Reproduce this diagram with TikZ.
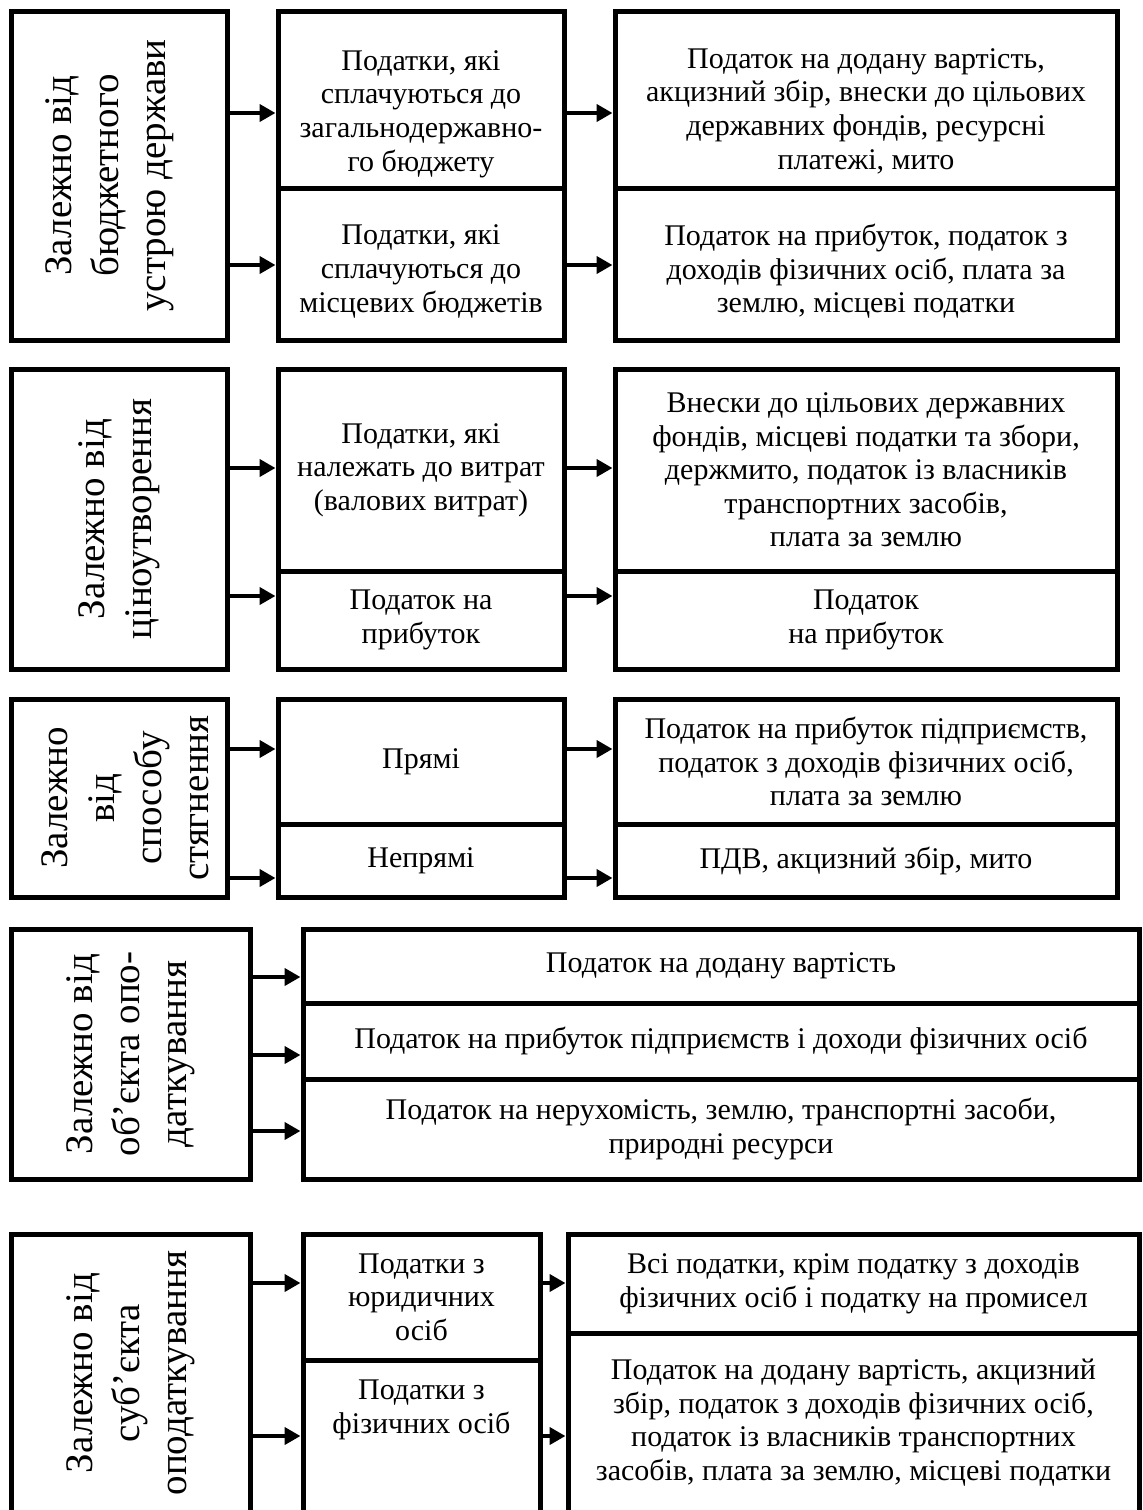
\documentclass[tikz,border=0pt]{standalone}
\usepackage{fontspec}
\setmainfont{Liberation Serif}
\usepackage{graphicx}
\usepackage{tikz}
\usetikzlibrary{arrows.meta}

\newcommand{\vtext}[1]{\rotatebox{90}{\begin{tabular}{@{}c@{}}#1\end{tabular}}}

\tikzset{
    plain/.style={align=center, font=\fontsize{15}{16.8}\selectfont},
    box/.style={plain, draw, line width=2.5pt, inner sep=1pt},
    side/.style={draw, line width=2.5pt, inner sep=0pt, font=\fontsize{19.5}{23.5}\selectfont},
    arr/.style={line width=2pt, -{Triangle[length=8pt, width=8.5pt]}}
}

\begin{document}
\begin{tikzpicture}[x=0.5pt, y=-0.5pt]
    \useasboundingbox (0,0) rectangle (1143,1510);
    \clip (0,0) rectangle (1143,1510);

    \node[side, minimum width=108pt, minimum height=164.5pt] (L1) at (119, 175.5) {\vtext{Залежно від\\бюджетного\\устрою держави}\kern10pt};
    \node[box, minimum width=143pt, minimum height=88.5pt] (M1a) at (421, 99.5) {};
    \node[box, minimum width=143pt, minimum height=76pt] (M1b) at (421, 264) {};
    \node[box, minimum width=251pt, minimum height=88.5pt] (R1a) at (866, 99.5) {};
    \node[box, minimum width=251pt, minimum height=76pt] (R1b) at (866, 264) {};
    \node[plain] (T1a) at (421, 114) {Податки, які\\сплачуються до\\загальнодержавно-\\го бюджету};
    \node[plain] (T1b) at (421, 271.5) {Податки, які\\сплачуються до\\місцевих бюджетів};
    \node[plain] (U1a) at (866, 111) {Податок на додану вартість,\\акцизний збір, внески до цільових\\державних фондів, ресурсні\\платежі, мито};
    \node[plain] (U1b) at (866, 271.5) {Податок на прибуток, податок з\\доходів фізичних осіб, плата за\\землю, місцеві податки};

    \draw[arr] (L1.east |- 0,113) -- (M1a.west |- 0,113);
    \draw[arr] (L1.east |- 0,265) -- (M1b.west |- 0,265);
    \draw[arr] (M1a.east |- 0,113) -- (R1a.west |- 0,113);
    \draw[arr] (M1b.east |- 0,265) -- (R1b.west |- 0,265);

    \node[side, minimum width=108pt, minimum height=150pt] (L2) at (119, 519) {\vtext{Залежно від\\ціноутворення}};
    \node[box, minimum width=143pt, minimum height=101pt] (M2a) at (421, 470) {Податки, які\\належать до витрат\\(валових витрат)};
    \node[box, minimum width=143pt, minimum height=49pt] (M2b) at (421, 620) {Податок на\\прибуток};
    \node[box, minimum width=251pt, minimum height=101pt] (R2a) at (866, 470) {Внески до цільових державних\\фондів, місцеві податки та збори,\\держмито, податок із власників\\транспортних засобів,\\плата за землю};
    \node[box, minimum width=251pt, minimum height=49pt] (R2b) at (866, 620) {Податок\\на прибуток};

    \draw[arr] (L2.east |- 0,468) -- (M2a.west |- 0,468);
    \draw[arr] (L2.east |- 0,596) -- (M2b.west |- 0,596);
    \draw[arr] (M2a.east |- 0,468) -- (R2a.west |- 0,468);
    \draw[arr] (M2b.east |- 0,596) -- (R2b.west |- 0,596);

    \node[side, minimum width=108pt, minimum height=99pt] (L3) at (119, 798) {\kern10pt\vtext{Залежно\\від\\способу\\стягнення}};
    \node[box, minimum width=143pt, minimum height=62.5pt] (M3a) at (421, 761.5) {Прямі};
    \node[box, minimum width=143pt, minimum height=36.5pt] (M3b) at (421, 860.5) {Непрямі};
    \node[box, minimum width=251pt, minimum height=62.5pt] (R3a) at (866, 761.5) {Податок на прибуток підприємств,\\податок з доходів фізичних осіб,\\плата за землю};
    \node[box, minimum width=251pt, minimum height=36.5pt] (R3b) at (866, 860.5) {ПДВ, акцизний збір, мито};

    \draw[arr] (L3.east |- 0,749) -- (M3a.west |- 0,749);
    \draw[arr] (L3.east |- 0,878) -- (M3b.west |- 0,878);
    \draw[arr] (M3a.east |- 0,749) -- (R3a.west |- 0,749);
    \draw[arr] (M3b.east |- 0,878) -- (R3b.west |- 0,878);

    \node[side, minimum width=119.5pt, minimum height=125pt] (L4) at (130.5, 1054) {\vtext{Залежно від\\об’єкта опо-\\даткування}};
    \node[box, minimum width=418pt, minimum height=37pt] (R4a) at (721, 966) {Податок на додану вартість};
    \node[box, minimum width=418pt, minimum height=38pt] (R4b) at (721, 1041) {Податок на прибуток підприємств і доходи фізичних осіб};
    \node[box, minimum width=418pt, minimum height=50pt] (R4c) at (721, 1129) {Податок на нерухомість, землю, транспортні засоби,\\природні ресурси};

    \draw[arr] (L4.east |- 0,977) -- (R4a.west |- 0,977);
    \draw[arr] (L4.east |- 0,1055) -- (R4b.west |- 0,1055);
    \draw[arr] (L4.east |- 0,1131) -- (R4c.west |- 0,1131);

    \node[side, minimum width=119.5pt, minimum height=139pt] (L5) at (130.5, 1373) {\vtext{Залежно від\\суб’єкта\\оподаткування}};
    \node[box, minimum width=118.5pt, minimum height=63pt] (M5a) at (421.5, 1297) {Податки з\\юридичних\\осіб};
    \node[box, minimum width=118.5pt, minimum height=76pt] (M5b) at (421.5, 1436) {};
    \node[plain] (T5b) at (421.5, 1410) {Податки з\\фізичних осіб};
    \node[box, minimum width=285.5pt, minimum height=49.5pt] (R5a) at (853.5, 1283.5) {Всі податки, крім податку з доходів\\фізичних осіб і податку на промисел};
    \node[box, minimum width=285.5pt, minimum height=89.5pt] (R5b) at (853.5, 1422.5) {Податок на додану вартість, акцизний\\збір, податок з доходів фізичних осіб,\\податок із власників транспортних\\засобів, плата за землю, місцеві податки};

    \draw[arr] (L5.east |- 0,1283) -- (M5a.west |- 0,1283);
    \draw[arr] (L5.east |- 0,1436) -- (M5b.west |- 0,1436);
    \draw[arr] (M5a.east |- 0,1283) -- (R5a.west |- 0,1283);
    \draw[arr] (M5b.east |- 0,1436) -- (R5b.west |- 0,1436);
\end{tikzpicture}
\end{document}
